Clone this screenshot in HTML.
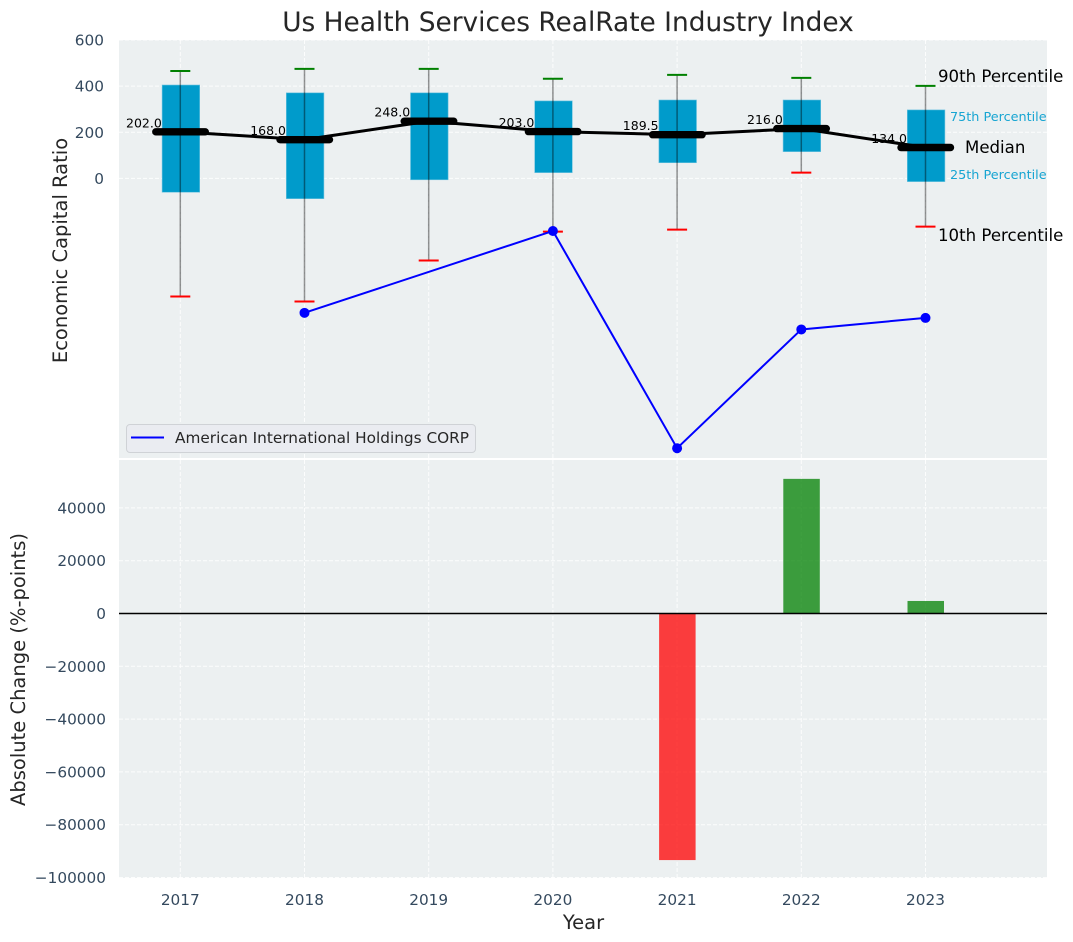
<!DOCTYPE html>
<html lang="en">
<head>
<meta charset="utf-8">
<title>Us Health Services RealRate Industry Index</title>
<style>
html,body{margin:0;padding:0;background:#fff;}
svg{display:block;font-family:"DejaVu Sans","Liberation Sans",sans-serif;}
</style>
</head>
<body>
<svg id="chart" xmlns="http://www.w3.org/2000/svg" width="1073" height="942" viewBox="0 0 1073 942">
  <text x="568" y="31" text-anchor="middle" font-size="26.4" fill="#262626">Us Health Services RealRate Industry Index</text>
  <rect x="119" y="40" width="928" height="418" fill="#ecf0f1"/>
  <rect x="119" y="460" width="928" height="418" fill="#ecf0f1"/>
  <g id="grid"></g>
  <g id="bars"></g>
  <g id="boxes"></g>
  <g id="medians"></g>
  <g id="company"></g>
  <g id="ticks"></g>
  <text transform="translate(67,250.5) rotate(-90)" text-anchor="middle" font-size="19.5" fill="#262626">Economic Capital Ratio</text>
  <text transform="translate(25,669.5) rotate(-90)" text-anchor="middle" font-size="19.5" fill="#262626">Absolute Change (%-points)</text>
  <text x="583.5" y="929" text-anchor="middle" font-size="19.5" fill="#262626">Year</text>
  <text x="938" y="82" font-size="16.6" fill="#000">90th Percentile</text>
  <text x="950" y="121" font-size="12.8" fill="#17a5d2">75th Percentile</text>
  <text x="965" y="153" font-size="16.6" fill="#000">Median</text>
  <text x="950" y="179" font-size="12.8" fill="#17a5d2">25th Percentile</text>
  <text x="938" y="241" font-size="16.6" fill="#000">10th Percentile</text>
  <g>
    <rect x="126.5" y="424.5" width="349" height="28" rx="3.5" fill="#eaecf1" stroke="#cfd2d6" stroke-width="1"/>
    <line x1="131" y1="437.5" x2="164" y2="437.5" stroke="#0000ff" stroke-width="2"/>
    <text x="175" y="443" font-size="15.3" fill="#262626">American International Holdings CORP</text>
  </g>
</svg>
<script>
const years = [2017, 2018, 2019, 2020, 2021, 2022, 2023];
const p90 = [466, 475, 475, 432, 449, 436, 401];
const p75 = [405, 371, 371, 336, 340, 340, 297];
const medianValues = [202, 168, 248, 203, 189.5, 216, 134];
const p25 = [-60, -88, -6, 25, 68, 116, -14];
const p10 = [-512, -534, -356, -231, -222, 25, -209];
const companyValues = [null, -583, null, -228, -1170, -655, -605];
const changeValues = [0, 0, 0, 0, -93400, 51000, 4750];
const medianLabels = ['202.0', '168.0', '248.0', '203.0', '189.5', '216.0', '134.0'];
const topTicks = [0, 200, 400, 600];
const bottomTicks = [-100000, -80000, -60000, -40000, -20000, 0, 20000, 40000];

const NS = 'http://www.w3.org/2000/svg';
function xScale(y) { return 180.3 + (y - 2017) * 124.2; }
function yTop(v) { return 178.4 - v * 0.2306; }
function yBottom(v) { return 613.5 - v * 0.00264; }
function mk(parent, tag, attrs) {
  const el = document.createElementNS(NS, tag);
  for (const k in attrs) el.setAttribute(k, attrs[k]);
  parent.appendChild(el);
  return el;
}
const grid = document.getElementById('grid');
const bars = document.getElementById('bars');
const boxes = document.getElementById('boxes');
const medians = document.getElementById('medians');
const company = document.getElementById('company');
const ticks = document.getElementById('ticks');
const gridStyle = { stroke: '#ffffff', 'stroke-opacity': 0.85, 'stroke-width': 1, 'stroke-dasharray': '4 2' };

years.forEach(function (yr) {
  const x = xScale(yr);
  [[40, 458], [460, 878]].forEach(function (range) {
    const g = mk(grid, 'line', Object.assign({ x1: x, x2: x, y1: range[0], y2: range[1] }, gridStyle));
    
    
  });
  const t = mk(ticks, 'text', { x: x, y: 905, 'text-anchor': 'middle', 'font-size': 15.3, fill: '#34495e' });
  t.textContent = yr;
  
  
});
topTicks.forEach(function (v) {
  const y = yTop(v);
  const g = mk(grid, 'line', Object.assign({ x1: 119, x2: 1047, y1: y, y2: y }, gridStyle));
  
  
  const t = mk(ticks, 'text', { x: 104, y: y + 5.5, 'text-anchor': 'end', 'font-size': 15.3, fill: '#34495e' });
  t.textContent = v;
  
  
});
bottomTicks.forEach(function (v) {
  const y = yBottom(v);
  const g = mk(grid, 'line', Object.assign({ x1: 119, x2: 1047, y1: y, y2: y }, gridStyle));
  
  
  const t = mk(ticks, 'text', { x: 106, y: y + 5.5, 'text-anchor': 'end', 'font-size': 15.3, fill: '#34495e' });
  t.textContent = String(v).replace('-', '\u2212');
  
  
});

changeValues.forEach(function (v, i) {
  if (!v) return;
  const x = xScale(years[i]);
  const y0 = yBottom(0), y1 = yBottom(v);
  const r = mk(bars, 'rect', {
    x: x - 18, width: 36.5, y: Math.min(y0, y1), height: Math.abs(y1 - y0),
    fill: v < 0 ? '#ff0000' : '#008000', 'fill-opacity': 0.75
  });
  
  
});
const zero = mk(bars, 'line', { x1: 119, x2: 1047, y1: yBottom(0), y2: yBottom(0), stroke: '#000', 'stroke-width': 1.4 });



years.forEach(function (yr, i) {
  const x = xScale(yr);
  const box = mk(boxes, 'rect', {
    x: x - 18.2, width: 37.6, y: yTop(p75[i]), height: yTop(p25[i]) - yTop(p75[i]),
    fill: '#009bcb', stroke: '#6cc3df', 'stroke-width': 0.6
  });
  
  
  const w = mk(boxes, 'line', { x1: x, x2: x, y1: yTop(p90[i]), y2: yTop(p10[i]), stroke: '#000', 'stroke-opacity': 0.42, 'stroke-width': 1.5 });
  
  
  const hi = mk(boxes, 'line', { x1: x - 10, x2: x + 10, y1: yTop(p90[i]), y2: yTop(p90[i]), stroke: '#008000', 'stroke-width': 2 });
  
  
  const lo = mk(boxes, 'line', { x1: x - 10, x2: x + 10, y1: yTop(p10[i]), y2: yTop(p10[i]), stroke: '#ff0000', 'stroke-width': 2 });
  
  
});

const medianPath = mk(medians, 'polyline', {
  points: years.map(function (yr, i) { return xScale(yr) + ',' + yTop(medianValues[i]); }).join(' '),
  fill: 'none', stroke: '#000', 'stroke-width': 3
});


years.forEach(function (yr, i) {
  const x = xScale(yr), y = yTop(medianValues[i]);
  const t = mk(medians, 'text', { x: x - 18.5, y: y - 4.5, 'text-anchor': 'end', 'font-size': 12.5, fill: '#000' });
  t.textContent = medianLabels[i];
  
  
  const seg = mk(medians, 'line', { x1: x - 24.5, x2: x + 25, y1: y, y2: y, stroke: '#000', 'stroke-width': 7.4, 'stroke-linecap': 'round' });
  
  
});

const companyPoints = [];
companyValues.forEach(function (v, i) {
  if (v !== null) companyPoints.push([xScale(years[i]), yTop(v)]);
});
const companyLine = mk(company, 'polyline', {
  points: companyPoints.map(function (p) { return p.join(','); }).join(' '),
  fill: 'none', stroke: '#0000ff', 'stroke-width': 2
});


companyPoints.forEach(function (p) {
  const c = mk(company, 'circle', { cx: p[0], cy: p[1], r: 5, fill: '#0000ff' });
  
  
});
</script>
</body>
</html>
